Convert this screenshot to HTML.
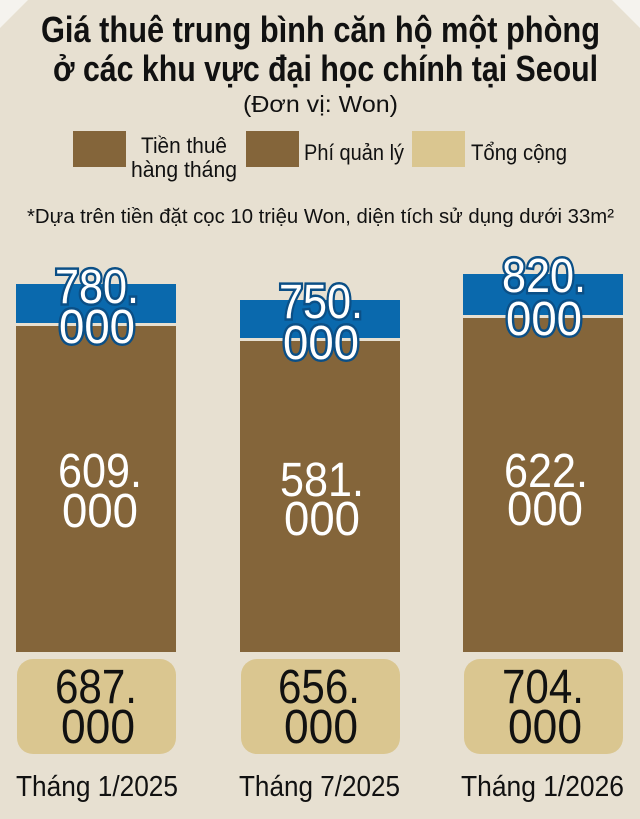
<!DOCTYPE html>
<html><head><meta charset="utf-8"><style>
html,body{margin:0;padding:0;background:#e7e0d1;}
svg{display:block}
</style></head><body>
<svg width="640" height="819" viewBox="0 0 640 819" xmlns="http://www.w3.org/2000/svg" font-family="Liberation Sans, DejaVu Sans, sans-serif">
<rect width="640" height="819" fill="#e7e0d1"/>
<polygon points="0,0 28,0 0,28" fill="#f5f3ee"/>
<polygon points="640,0 612,0 640,28" fill="#f5f3ee"/>
<g fill="#111" font-weight="bold">
<text x="41" y="42" font-size="36" textLength="559" lengthAdjust="spacingAndGlyphs">Giá thuê trung bình căn hộ một phòng</text>
<text x="53" y="81" font-size="36" textLength="545" lengthAdjust="spacingAndGlyphs">ở các khu vực đại học chính tại Seoul</text>
</g>
<g fill="#111">
<text x="243" y="112" font-size="23" textLength="155" lengthAdjust="spacingAndGlyphs">(Đơn vị: Won)</text>
<rect x="73" y="131" width="53" height="36" fill="#84653a"/>
<rect x="246" y="131" width="53" height="36" fill="#84653a"/>
<rect x="412" y="131" width="53" height="36" fill="#dac690"/>
<text x="141" y="153" font-size="22" textLength="86" lengthAdjust="spacingAndGlyphs">Tiền thuê</text>
<text x="131" y="177" font-size="22" textLength="106" lengthAdjust="spacingAndGlyphs">hàng tháng</text>
<text x="304" y="160" font-size="22" textLength="100" lengthAdjust="spacingAndGlyphs">Phí quản lý</text>
<text x="471" y="160" font-size="22" textLength="96" lengthAdjust="spacingAndGlyphs">Tổng cộng</text>
<text x="27" y="223" font-size="20" textLength="587" lengthAdjust="spacingAndGlyphs">*Dựa trên tiền đặt cọc 10 triệu Won, diện tích sử dụng dưới 33m²</text>
</g>
<rect x="16" y="284" width="160" height="39" fill="#0a69ad"/>
<rect x="16" y="326" width="160" height="326" fill="#84653a"/>
<rect x="240" y="300" width="160" height="38" fill="#0a69ad"/>
<rect x="240" y="341" width="160" height="311" fill="#84653a"/>
<rect x="463" y="274" width="160" height="41" fill="#0a69ad"/>
<rect x="463" y="318" width="160" height="334" fill="#84653a"/>
<g font-size="48" fill="#fff" stroke="#0b4f86" stroke-width="5" paint-order="stroke">
<text x="55" y="303" textLength="84" lengthAdjust="spacingAndGlyphs">780.</text><text x="59" y="343" textLength="76" lengthAdjust="spacingAndGlyphs">000</text>
<text x="279" y="318" textLength="84" lengthAdjust="spacingAndGlyphs">750.</text><text x="283" y="359" textLength="76" lengthAdjust="spacingAndGlyphs">000</text>
<text x="502" y="292" textLength="84" lengthAdjust="spacingAndGlyphs">820.</text><text x="506" y="335" textLength="76" lengthAdjust="spacingAndGlyphs">000</text>
</g>
<g font-size="48" fill="#fff">
<text x="58" y="487" textLength="84" lengthAdjust="spacingAndGlyphs">609.</text><text x="62" y="527" textLength="76" lengthAdjust="spacingAndGlyphs">000</text>
<text x="280" y="496" textLength="84" lengthAdjust="spacingAndGlyphs">581.</text><text x="284" y="535" textLength="76" lengthAdjust="spacingAndGlyphs">000</text>
<text x="504" y="487" textLength="84" lengthAdjust="spacingAndGlyphs">622.</text><text x="507" y="525" textLength="76" lengthAdjust="spacingAndGlyphs">000</text>
</g>
<rect x="17" y="659" width="159" height="95" rx="16" fill="#dac690"/>
<rect x="241" y="659" width="159" height="95" rx="16" fill="#dac690"/>
<rect x="464" y="659" width="159" height="95" rx="16" fill="#dac690"/>
<g font-size="48" fill="#111">
<text x="55" y="703" textLength="82" lengthAdjust="spacingAndGlyphs">687.</text><text x="61" y="743" textLength="74" lengthAdjust="spacingAndGlyphs">000</text>
<text x="278" y="703" textLength="82" lengthAdjust="spacingAndGlyphs">656.</text><text x="284" y="743" textLength="74" lengthAdjust="spacingAndGlyphs">000</text>
<text x="502" y="703" textLength="82" lengthAdjust="spacingAndGlyphs">704.</text><text x="508" y="743" textLength="74" lengthAdjust="spacingAndGlyphs">000</text>
</g>
<g font-size="29" fill="#111">
<text x="16" y="796" textLength="162" lengthAdjust="spacingAndGlyphs">Tháng 1/2025</text>
<text x="239" y="796" textLength="161" lengthAdjust="spacingAndGlyphs">Tháng 7/2025</text>
<text x="461" y="796" textLength="163" lengthAdjust="spacingAndGlyphs">Tháng 1/2026</text>
</g>
</svg>
</body></html>
